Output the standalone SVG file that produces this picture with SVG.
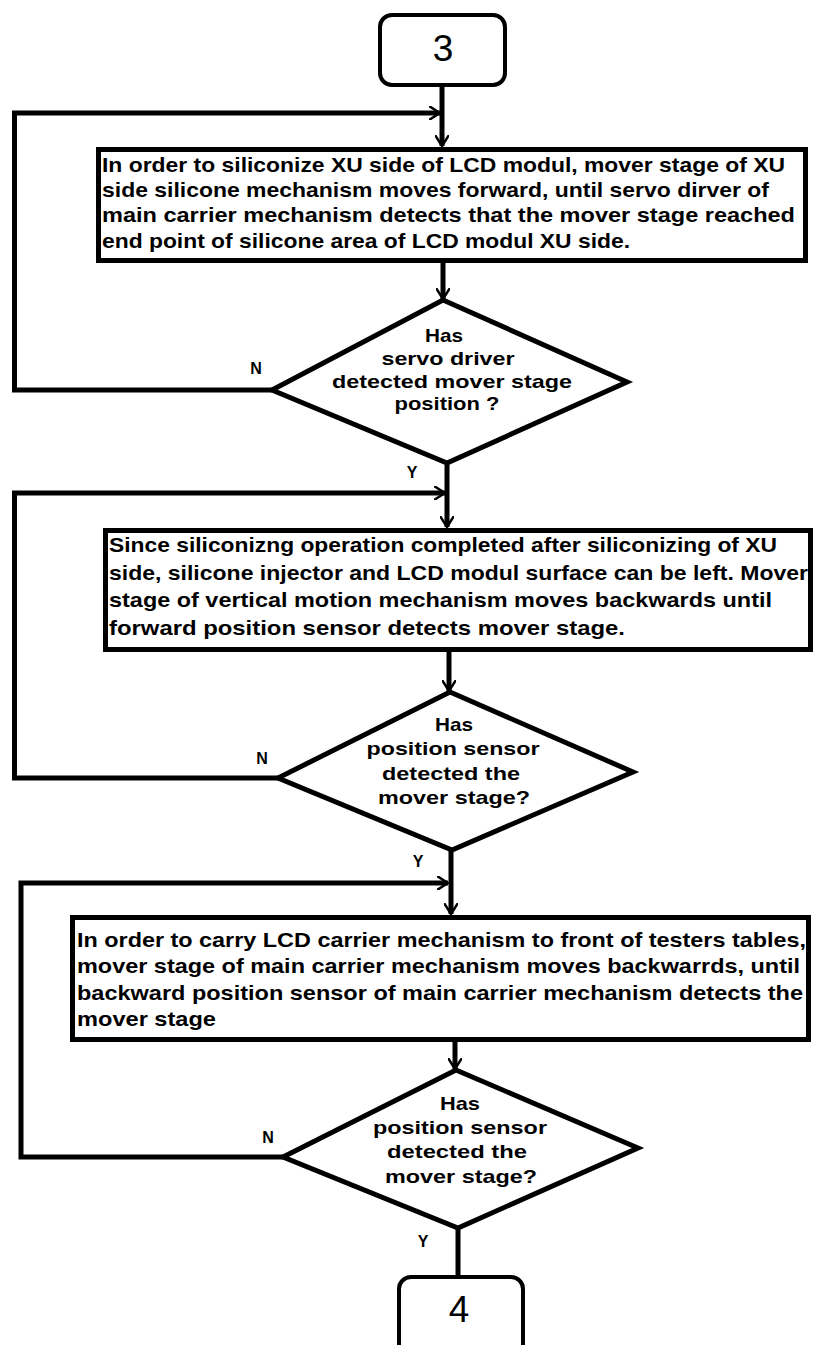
<svg xmlns="http://www.w3.org/2000/svg" width="815" height="1345" viewBox="0 0 815 1345">
<defs>
<style>
.box{fill:#fff;stroke:#000;stroke-width:5}
.term{fill:#fff;stroke:#000;stroke-width:4}
.dia{fill:#fff;stroke:#000;stroke-width:5;stroke-linejoin:miter}
.ln{fill:none;stroke:#000;stroke-width:5}
.t{font-family:"Liberation Sans",Arial,sans-serif;font-weight:bold;font-size:21px;fill:#000}
.dt{font-family:"Liberation Sans",Arial,sans-serif;font-weight:bold;font-size:19px;fill:#000;text-anchor:middle}
.lab{font-family:"Liberation Sans",Arial,sans-serif;font-weight:bold;font-size:16px;fill:#000;text-anchor:middle}
.num{font-family:"Liberation Sans",Arial,sans-serif;font-size:37px;fill:#000;text-anchor:middle}
</style>
<marker id="ah" markerUnits="userSpaceOnUse" viewBox="0 0 12 14" markerWidth="12" markerHeight="14" refX="11" refY="7" orient="auto">
<path d="M0,0 L11,7 L0,14" fill="none" stroke="#000" stroke-width="2.5"/>
</marker>
</defs>

<g id="connectors">
<line class="ln" x1="442" y1="87" x2="442" y2="146" marker-end="url(#ah)"/>
<polyline class="ln" points="272,390 14.5,390 14.5,113 440,113" marker-end="url(#ah)"/>
<line class="ln" x1="443" y1="263" x2="443" y2="299" marker-end="url(#ah)"/>
<line class="ln" x1="447" y1="463" x2="447" y2="527" marker-end="url(#ah)"/>
<polyline class="ln" points="278,778 14.5,778 14.5,493 445,493" marker-end="url(#ah)"/>
<line class="ln" x1="449" y1="652" x2="449" y2="691" marker-end="url(#ah)"/>
<line class="ln" x1="451" y1="850" x2="451" y2="914" marker-end="url(#ah)"/>
<polyline class="ln" points="283,1157 21,1157 21,883 448,883" marker-end="url(#ah)"/>
<line class="ln" x1="455" y1="1042" x2="455" y2="1069" marker-end="url(#ah)"/>
<line class="ln" x1="458" y1="1228" x2="458" y2="1277"/>
<text class="lab" x="256" y="374">N</text>
<text class="lab" x="412" y="478">Y</text>
<text class="lab" x="262" y="764">N</text>
<text class="lab" x="418" y="867">Y</text>
<text class="lab" x="268" y="1143">N</text>
<text class="lab" x="423" y="1247">Y</text>
</g>

<g id="start3">
<rect class="term" x="380" y="15" width="125" height="70" rx="12"/>
<text class="num" x="443" y="61">3</text>
</g>

<g id="box1">
<rect class="box" x="98.5" y="149.5" width="707" height="111"/>
<text class="t" x="102" y="172" textLength="683" lengthAdjust="spacingAndGlyphs">In order to siliconize XU side of LCD modul, mover stage of XU</text>
<text class="t" x="102" y="197" textLength="667" lengthAdjust="spacingAndGlyphs">side silicone mechanism moves forward, until servo dirver of</text>
<text class="t" x="102" y="222" textLength="693" lengthAdjust="spacingAndGlyphs">main carrier mechanism detects that the mover stage reached</text>
<text class="t" x="102" y="248" textLength="528" lengthAdjust="spacingAndGlyphs">end point of silicone area of LCD modul XU side.</text>
</g>

<g id="dec1">
<polygon class="dia" points="443,300 627,382 447,463 272,390"/>
<text class="dt" x="444" y="342" textLength="38" lengthAdjust="spacingAndGlyphs">Has</text>
<text class="dt" x="448" y="365" textLength="133" lengthAdjust="spacingAndGlyphs">servo driver</text>
<text class="dt" x="452" y="388" textLength="240" lengthAdjust="spacingAndGlyphs">detected mover stage</text>
<text class="dt" x="447" y="410" textLength="105" lengthAdjust="spacingAndGlyphs">position ?</text>
</g>

<g id="box2">
<rect class="box" x="105.5" y="530.5" width="705" height="119"/>
<text class="t" x="109" y="552" textLength="668" lengthAdjust="spacingAndGlyphs">Since siliconizng operation completed after siliconizing of XU</text>
<text class="t" x="109" y="580" textLength="699" lengthAdjust="spacingAndGlyphs">side, silicone injector and LCD modul surface can be left. Mover</text>
<text class="t" x="109" y="607" textLength="663" lengthAdjust="spacingAndGlyphs">stage of vertical motion mechanism moves backwards until</text>
<text class="t" x="109" y="635" textLength="516" lengthAdjust="spacingAndGlyphs">forward position sensor detects mover stage.</text>
</g>

<g id="dec2">
<polygon class="dia" points="450,692 633,772 452,850 278,778"/>
<text class="dt" x="454" y="731" textLength="38" lengthAdjust="spacingAndGlyphs">Has</text>
<text class="dt" x="453" y="755" textLength="173" lengthAdjust="spacingAndGlyphs">position sensor</text>
<text class="dt" x="451" y="780" textLength="138" lengthAdjust="spacingAndGlyphs">detected the</text>
<text class="dt" x="454" y="804" textLength="152" lengthAdjust="spacingAndGlyphs">mover stage?</text>
</g>

<g id="box3">
<rect class="box" x="72.5" y="917.5" width="736" height="122"/>
<text class="t" x="77" y="947" textLength="729" lengthAdjust="spacingAndGlyphs">In order to carry LCD carrier mechanism to front of testers tables,</text>
<text class="t" x="77" y="973" textLength="723" lengthAdjust="spacingAndGlyphs">mover stage of main carrier mechanism moves backwarrds, until</text>
<text class="t" x="77" y="1000" textLength="726" lengthAdjust="spacingAndGlyphs">backward position sensor of main carrier mechanism detects the</text>
<text class="t" x="77" y="1026" textLength="139" lengthAdjust="spacingAndGlyphs">mover stage</text>
</g>

<g id="dec3">
<polygon class="dia" points="456,1070 638,1148 458,1228 283,1157"/>
<text class="dt" x="460" y="1110" textLength="40" lengthAdjust="spacingAndGlyphs">Has</text>
<text class="dt" x="460" y="1134" textLength="174" lengthAdjust="spacingAndGlyphs">position sensor</text>
<text class="dt" x="457" y="1158" textLength="140" lengthAdjust="spacingAndGlyphs">detected the</text>
<text class="dt" x="461" y="1183" textLength="152" lengthAdjust="spacingAndGlyphs">mover stage?</text>
</g>

<g id="end4">
<rect class="term" x="399" y="1277" width="124" height="85" rx="12"/>
<text class="num" x="459" y="1322">4</text>
</g>
</svg>
